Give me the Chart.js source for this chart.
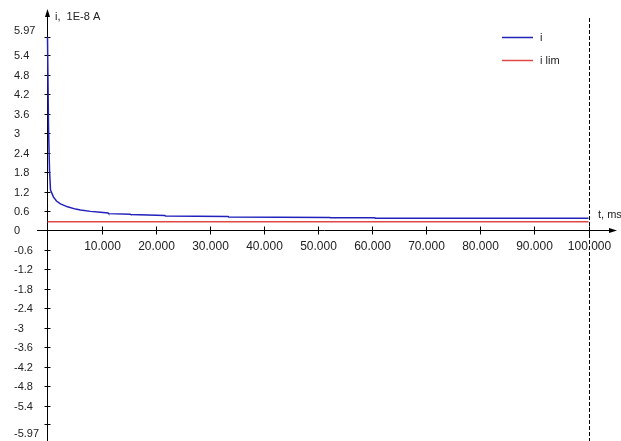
<!DOCTYPE html>
<html>
<head>
<meta charset="utf-8">
<script src="https://cdn.jsdelivr.net/npm/chart.js@4.4.1/dist/chart.umd.min.js"></script>
<style>
  html, body { margin: 0; padding: 0; background: #ffffff; }
  #wrap { width: 621px; height: 441px; position: relative; }
</style>
</head>
<body>
<div id="wrap"><canvas id="c" width="621" height="441"></canvas></div>
<script>
// Current decay i(t) and limiting current, in units of 1E-8 A, time in ms
const timeMs   = [0, 185, 370, 555, 1110, 1660, 2400, 3700, 5200, 6100, 7950, 9800, 11200, 11300, 15300, 15400, 21700, 21800, 33400, 33500, 52200, 52300, 60500, 60600, 100000];
const currentI = [5.97, 3.19, 1.87, 1.25, 1.03, 0.91, 0.82, 0.73, 0.66, 0.63, 0.59, 0.56, 0.54, 0.52, 0.50, 0.49, 0.46, 0.45, 0.43, 0.42, 0.40, 0.39, 0.39, 0.38, 0.38];
const limitT   = [0, 100000];
const limitI   = [0.27, 0.27];

const yTicks  = [5.97, 5.4, 4.8, 4.2, 3.6, 3, 2.4, 1.8, 1.2, 0.6, 0, -0.6, -1.2, -1.8, -2.4, -3, -3.6, -4.2, -4.8, -5.4, -5.97];
const xTicks  = [10000, 20000, 30000, 40000, 50000, 60000, 70000, 80000, 90000, 100000];
const xLabels = ['10.000', '20.000', '30.000', '40.000', '50.000', '60.000', '70.000', '80.000', '90.000', '100.000'];
const yTitle  = 'i,  1E-8 A';
const xTitle  = 't, ms';
const seriesNames = ['i', 'i lim'];
const markerT = 100000;

const FONT = '11px "Liberation Sans", Arial, sans-serif';
const XFONT = '12px "Liberation Sans", Arial, sans-serif';

const axesPlugin = {
  id: 'axes',
  beforeDatasetsDraw(chart) {
    const ctx = chart.ctx;
    const xs = chart.scales.x, ys = chart.scales.y;
    const x0 = Math.round(xs.getPixelForValue(0)) + 0.5;
    const y0 = Math.round(ys.getPixelForValue(0)) + 0.5;
    ctx.save();
    ctx.strokeStyle = '#000000';
    ctx.fillStyle = '#000000';
    ctx.lineWidth = 1;
    // vertical axis with arrow
    ctx.beginPath();
    ctx.moveTo(x0, 441);
    ctx.lineTo(x0, 14);
    ctx.stroke();
    ctx.beginPath();
    ctx.moveTo(x0, 9);
    ctx.lineTo(x0 - 2.5, 17);
    ctx.lineTo(x0 + 2.5, 17);
    ctx.closePath();
    ctx.fill();
    // horizontal axis with arrow
    ctx.beginPath();
    ctx.moveTo(37, y0);
    ctx.lineTo(612, y0);
    ctx.stroke();
    ctx.beginPath();
    ctx.moveTo(617, y0);
    ctx.lineTo(609, y0 - 2.5);
    ctx.lineTo(609, y0 + 2.5);
    ctx.closePath();
    ctx.fill();

    ctx.font = FONT;
    ctx.fillStyle = '#222222';
    // y ticks and labels
    ctx.textAlign = 'left';
    ctx.textBaseline = 'middle';
    yTicks.forEach(v => {
      const py = Math.round(ys.getPixelForValue(v)) + 0.5;
      ctx.beginPath();
      ctx.moveTo(x0 - 3, py);
      ctx.lineTo(x0 + 3, py);
      ctx.stroke();
      let ly = py;
      if (v === yTicks[0]) ly = py - 7;
      if (v === yTicks[yTicks.length - 1]) ly = py + 9;
      ctx.fillText(String(v), 14, ly);
    });
    // x ticks and labels
    ctx.font = XFONT;
    ctx.textAlign = 'center';
    ctx.textBaseline = 'middle';
    xTicks.forEach((v, i) => {
      const px = Math.round(xs.getPixelForValue(v)) + 0.5;
      ctx.beginPath();
      ctx.moveTo(px, y0 - 4);
      ctx.lineTo(px, y0 + 4);
      ctx.stroke();
      ctx.fillText(xLabels[i], px, 247);
    });
    // axis titles
    ctx.font = FONT;
    ctx.textAlign = 'left';
    ctx.fillText(yTitle, 55, 17);
    ctx.fillText(xTitle, 598, 215);
    ctx.restore();
  },
  afterDatasetsDraw(chart) {
    const ctx = chart.ctx;
    const xs = chart.scales.x;
    const mx = Math.round(xs.getPixelForValue(markerT)) + 0.5;
    ctx.save();
    // dashed end marker
    ctx.strokeStyle = '#000000';
    ctx.lineWidth = 1;
    ctx.setLineDash([4, 2]);
    ctx.beginPath();
    ctx.moveTo(mx, 18);
    ctx.lineTo(mx, 441);
    ctx.stroke();
    ctx.setLineDash([]);
    // legend
    ctx.font = FONT;
    ctx.textAlign = 'left';
    ctx.textBaseline = 'middle';
    chart.data.datasets.forEach((ds, i) => {
      const ly = 37.5 + i * 23;
      ctx.strokeStyle = ds.borderColor;
      ctx.lineWidth = 1.5;
      ctx.beginPath();
      ctx.moveTo(502, ly);
      ctx.lineTo(533, ly);
      ctx.stroke();
      ctx.fillStyle = '#222222';
      ctx.fillText(seriesNames[i], 540, ly);
    });
    ctx.restore();
  }
};

new Chart(document.getElementById('c'), {
  type: 'line',
  data: {
    datasets: [
      {
        label: seriesNames[0],
        data: timeMs.map((t, i) => ({ x: t, y: currentI[i] })),
        borderColor: '#2222bb',
        borderWidth: 1.5,
        pointRadius: 0,
        tension: 0,
        fill: false
      },
      {
        label: seriesNames[1],
        data: limitT.map((t, i) => ({ x: t, y: limitI[i] })),
        borderColor: '#e04848',
        borderWidth: 1.5,
        pointRadius: 0,
        tension: 0,
        fill: false
      }
    ]
  },
  options: {
    responsive: false,
    animation: false,
    layout: { padding: 0 },
    plugins: { legend: { display: false }, tooltip: { enabled: false } },
    scales: {
      x: { type: 'linear', min: -8780, max: 106007, display: false },
      y: { type: 'linear', min: -6.495, max: 7.112, display: false }
    }
  },
  plugins: [axesPlugin]
});
</script>
</body>
</html>
